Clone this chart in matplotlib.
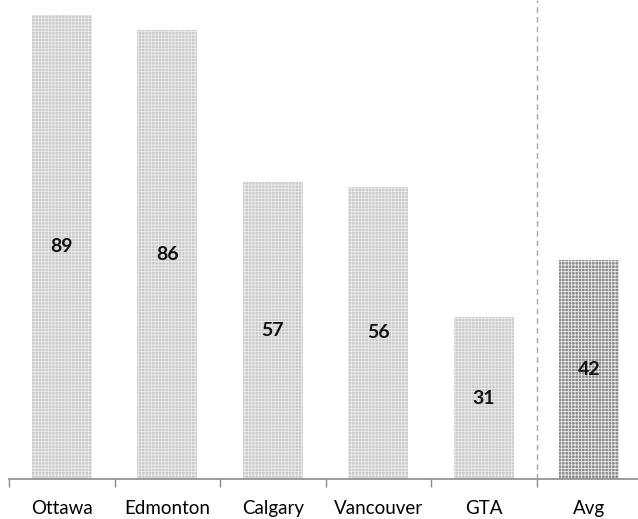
import numpy as np
import matplotlib.pyplot as plt

cities = ['Ottawa', 'Edmonton', 'Calgary', 'Vancouver', 'GTA', 'Avg']
scores = [89, 86, 57, 56, 31, 42]

plt.rcParams['font.family'] = ['Lato', 'DejaVu Sans']
plt.rcParams['hatch.linewidth'] = 0.6

fig = plt.figure(figsize=(6.38, 5.19), dpi=100)
ax = fig.add_axes([9 / 638, 40 / 519, 633 / 638, 479 / 519])

x = np.arange(len(cities))
colors = ['#c9c9c9'] * 5 + ['#8a8a8a']
bars = ax.bar(x, scores, width=0.57, color=colors, edgecolor='#eeeeee',
              hatch='+++++', linewidth=0, zorder=2)

for xi, v in zip(x, scores):
    ax.text(xi, v / 2, str(v), ha='center', va='center', fontsize=14,
            fontweight='bold', color='#111111', zorder=3)

# separator between cities and the average
ax.axvline(4.5, color='#a6a6a6', linestyle=(0, (4, 3)), linewidth=1, zorder=1)

ax.set_xlim(-0.5, 5.5)
ax.set_ylim(0, 91.8)
ax.set_yticks([])
ax.set_xticks(np.arange(-0.5, 6.5, 1.0))
ax.set_xticklabels([])
ax.set_xticks(x, minor=True)
ax.set_xticklabels(cities, minor=True, fontsize=13.5)
ax.tick_params(axis='x', which='major', length=6, color='#8c8c8c', width=1)
ax.tick_params(axis='x', which='minor', length=0, pad=15)

for side in ['top', 'right', 'left']:
    ax.spines[side].set_visible(False)
ax.spines['bottom'].set_color('#8c8c8c')
ax.spines['bottom'].set_linewidth(1.2)

fig.savefig('out.png', dpi=100)
